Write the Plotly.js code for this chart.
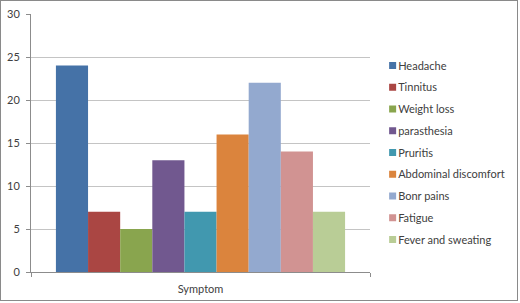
<!DOCTYPE html>
<html>
<head>
<meta charset="utf-8">
<script src="https://cdn.plot.ly/plotly-3.0.1.min.js"></script>
<style>
  html, body { margin: 0; padding: 0; background: #fff; }
  #wrap { position: relative; width: 520px; height: 303px; }
  #chart { position: absolute; left: 0; top: 0; width: 520px; height: 303px; }
  #frame { position: absolute; left: 0; top: 0; width: 516px; height: 299px; border: 1.5px solid #8a8a8a; pointer-events: none; }
</style>
</head>
<body>
<div id="wrap">
  <div id="chart"></div>
  <div id="frame"></div>
</div>
<script>
const category = ["Symptom"];
const seriesNames = ["Headache", "Tinnitus", "Weight loss", "parasthesia", "Pruritis",
                     "Abdominal discomfort", "Bonr pains", "Fatigue", "Fever and sweating"];
const seriesValues = [24, 7, 5, 13, 7, 16, 22, 14, 7];
const seriesColors = ["#4572A7", "#AA4643", "#89A54E", "#71588F", "#4198AF",
                      "#DB843D", "#93A9CF", "#D19392", "#B9CD96"];
const yTicks = [0, 5, 10, 15, 20, 25, 30];

const FONT = "Lato, 'Open Sans', sans-serif";

const traces = seriesNames.map((name, i) => ({
  type: "bar",
  name: name,
  x: category,
  y: [seriesValues[i]],
  legendgroup: name,
  marker: { color: seriesColors[i], line: { width: 0 } },
  hoverinfo: "skip"
}));

const layout = {
  width: 520,
  height: 303,
  margin: { l: 31, r: 150, t: 14, b: 31, pad: 0, autoexpand: false },
  paper_bgcolor: "#ffffff",
  plot_bgcolor: "#ffffff",
  barmode: "group",
  bargap: 0.147,
  bargroupgap: 0,
  font: { family: FONT, size: 11, color: "#404040" },
  showlegend: true,
  legend: {
    x: 0.965, xanchor: "left",
    y: 0.857, yanchor: "top",
    traceorder: "grouped",
    tracegroupgap: 2.75,
    font: { family: FONT, size: 11, color: "#404040" },
    bgcolor: "rgba(0,0,0,0)",
    borderwidth: 0
  },
  xaxis: {
    type: "category",
    showgrid: false,
    showline: true,
    linecolor: "#8c8c8c",
    linewidth: 1,
    ticks: "outside",
    tickson: "boundaries",
    ticklen: 4,
    tickcolor: "#8c8c8c",
    ticklabelstandoff: 7,
    tickfont: { family: FONT, size: 11, color: "#404040" },
    zeroline: false
  },
  yaxis: {
    range: [0, 30],
    tickvals: yTicks,
    ticktext: yTicks.map(String),
    showgrid: true,
    gridcolor: "#c4c4c4",
    gridwidth: 1,
    showline: true,
    linecolor: "#8c8c8c",
    linewidth: 1,
    ticks: "outside",
    ticklen: 4,
    tickcolor: "#8c8c8c",
    ticklabelstandoff: 4,
    tickfont: { family: FONT, size: 11, color: "#404040" },
    zeroline: false
  }
};

Plotly.newPlot("chart", traces, layout, { displayModeBar: false, staticPlot: true }).then(() => {
  document.querySelectorAll("#chart .legendpoints path").forEach(p => {
    p.setAttribute("d", "M18,3.5H11V-3.5H18Z");
  });
});
</script>
</body>
</html>
